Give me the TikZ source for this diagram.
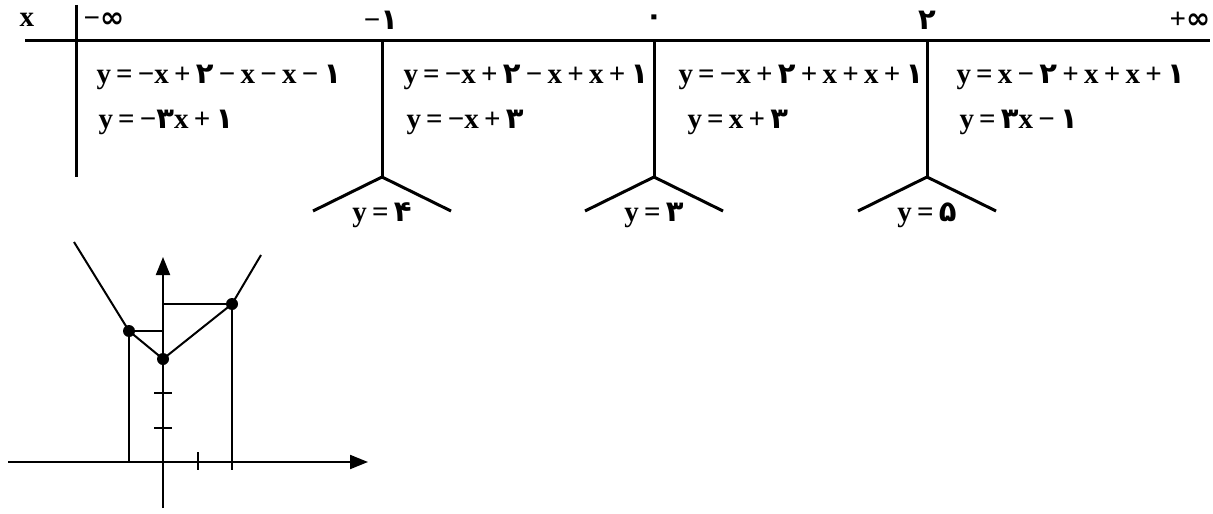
\documentclass[tikz,border=0pt]{standalone}
\usepackage{fontspec}
\setmainfont{Liberation Serif}
\newfontfamily\farsi[Script=Arabic]{DejaVu Sans}
\newcommand{\fa}[1]{{\farsi #1}}
\newcommand{\infsign}{{\farsi ∞}}
\newcommand{\eqfont}{\fontsize{14.5}{16}\selectfont\bfseries\spaceskip=0.18em plus 0.02em\relax}
\usetikzlibrary{arrows.meta}

\tikzset{
	txt/.style={font=\eqfont, inner sep=0pt},
	eqn/.style={txt, anchor=west},
	axis/.style={line width=1pt, -{Triangle[length=9pt, width=7pt]}},
	thin line/.style={line width=1pt}
}

\begin{document}
\begin{tikzpicture}[x=0.5pt, y=-0.5pt, line width=1.5pt]
	\useasboundingbox (0,0) rectangle (1213,513);
	% head of the table
	\node [txt] (hx) at (27,20) {x};
	\node [txt] (hminf) at (104,20) {−\infsign};
	\node [txt] (hm1) at (381,20) {−\fa{۱}};
	\node [txt] (h0) at (654,20) {\fa{۰}};
	\node [txt] (h2) at (927,20) {\fa{۲}};
	\node [txt] (hpinf) at (1190,20) {+\infsign};
	\coordinate (L) at (25,41);
	\coordinate (R) at (1210,41);
	\draw (L) -- (R);
	\coordinate (S1) at (76,5);
	\coordinate (S2) at (76,177);
	\draw (S1) -- (S2);
	\foreach \px/\nm/\val in {382/a/۴, 654/b/۳, 927/c/۵}{
		\coordinate (\nm top) at (\px,41);
		\coordinate (\nm mid) at (\px,177);
		\coordinate (\nm left) at ({\px-69},211);
		\coordinate (\nm right) at ({\px+69},211);
		\draw (\nm top) -- (\nm mid);
		\draw (\nm left) -- (\nm mid) -- (\nm right);
		\node [txt] (\nm val) at (\px,215) {y = \fa{\val}};
	}
	% the four pieces
	\node [eqn] (e1) at (95,77) {y = −x + \fa{۲} − x − x − \fa{۱}};
	\node [eqn] (f1) at (97,122) {y = −\fa{۳}x + \fa{۱}};
	\node [eqn] (e2) at (402,77) {y = −x + \fa{۲} − x + x + \fa{۱}};
	\node [eqn] (f2) at (405,122) {y = −x + \fa{۳}};
	\node [eqn] (e3) at (677,77) {y = −x + \fa{۲} + x + x + \fa{۱}};
	\node [eqn] (f3) at (686,122) {y = x + \fa{۳}};
	\node [eqn] (e4) at (955,77) {y = x − \fa{۲} + x + x + \fa{۱}};
	\node [eqn] (f4) at (958,122) {y = \fa{۳}x − \fa{۱}};

	% the graph
	\coordinate (O) at (163,462);
	\coordinate (XA) at (8,462);
	\coordinate (XB) at (368,462);
	\coordinate (YA) at (163,508);
	\coordinate (YB) at (163,257);
	\draw [axis] (XA) -- (XB);
	\draw [axis] (YA) -- (YB);
	\foreach \ty in {393,428}{
		\draw [thin line] (154,\ty) -- (172,\ty);
	}
	\draw [thin line] (198,452) -- (198,470);
	\coordinate (P) at (129,331);
	\coordinate (Q) at (163,359);
	\coordinate (T) at (232,304);
	\coordinate (U) at (74,242);
	\coordinate (V) at (261,255);
	\draw [thin line] (P) -- (P |- O);
	\draw [thin line] (T) -- (232,470);
	\draw [thin line] (P) -- (P -| O);
	\draw [thin line] (T) -- (T -| O);
	\draw [thin line] (U) -- (P) -- (Q) -- (T) -- (V);
	\foreach \pt in {P,Q,T}{
		\fill (\pt) circle (6);
	}
\end{tikzpicture}
\end{document}
